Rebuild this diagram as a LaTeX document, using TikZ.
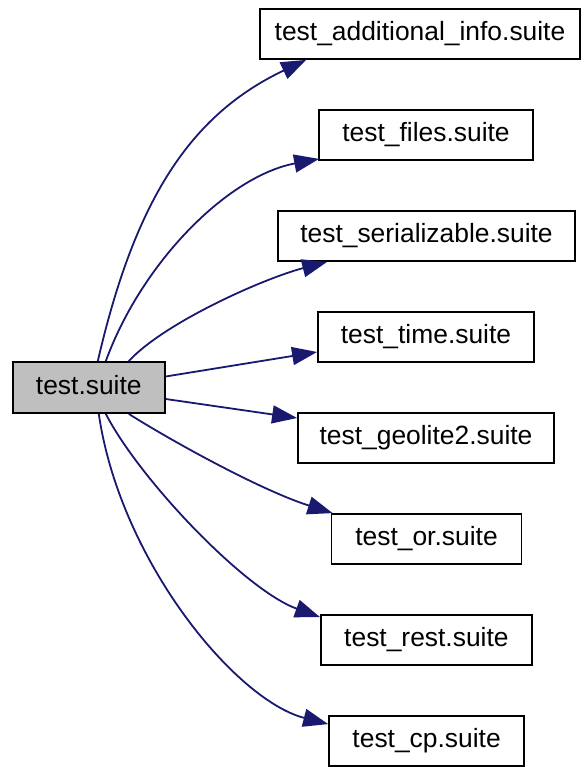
\documentclass[tikz,border=0pt]{standalone}
\usepackage{fontspec}
\setmainfont{Liberation Sans}
\usetikzlibrary{arrows.meta}
\definecolor{edgeblue}{HTML}{191970}
\definecolor{rootgray}{HTML}{BFBFBF}
\begin{document}
\begin{tikzpicture}[x=1pt,y=-1pt,
  box/.style={draw=black, line width=1.8pt, rectangle, inner sep=0pt,
    minimum height=50pt, text height=19.8pt, text depth=6.6pt,
    font=\fontsize{26.4}{30}\selectfont},
  edge/.style={draw=edgeblue, line width=1.8pt,
    -{Triangle[length=25pt,width=18pt]}}]
\useasboundingbox (0,0) rectangle (584,767);

\node[box, fill=rootgray, minimum width=152pt, minimum height=51pt] (test) at (88.8,387.5) {test.suite};
\node[box, minimum width=320pt] (addinfo) at (420,34) {test\_additional\_info.suite};
\node[box, minimum width=214pt] (files) at (426,135) {test\_files.suite};
\node[box, minimum width=297pt] (ser) at (426.5,236) {test\_serializable.suite};
\node[box, minimum width=216pt] (time) at (426,337) {test\_time.suite};
\node[box, minimum width=256pt] (geo) at (426,438) {test\_geolite2.suite};
\node[box, minimum width=190pt] (or) at (426.5,539) {test\_or.suite};
\node[box, minimum width=211pt] (rest) at (426.4,640) {test\_rest.suite};
\node[box, minimum width=195pt] (cp) at (426.6,741) {test\_cp.suite};

\draw[edge] ([xshift=9pt]test.north) .. controls (135,200) and (190,115) .. ([xshift=47pt]addinfo.south west);
\draw[edge] ([xshift=17pt]test.north) .. controls (142,262) and (228,176) .. ([xshift=1pt,yshift=2pt]files.south west);
\draw[edge] ([xshift=40pt]test.north) .. controls (165,322) and (265,278) .. ([xshift=50pt]ser.south west);
\draw[edge] ([yshift=11pt]test.east) -- ([yshift=-15pt]time.west);
\draw[edge] ([yshift=-11.5pt]test.east) -- ([yshift=20pt]geo.west);
\draw[edge] ([xshift=40pt]test.south) .. controls (170,440) and (260,490) .. ([xshift=2pt]or.north west);
\draw[edge] ([xshift=17pt]test.south) .. controls (140,480) and (245,590) .. ([yshift=-3pt]rest.north west);
\draw[edge] ([xshift=10pt]test.south) .. controls (120,560) and (235,700) .. ([yshift=-9pt]cp.north west);
\end{tikzpicture}
\end{document}
